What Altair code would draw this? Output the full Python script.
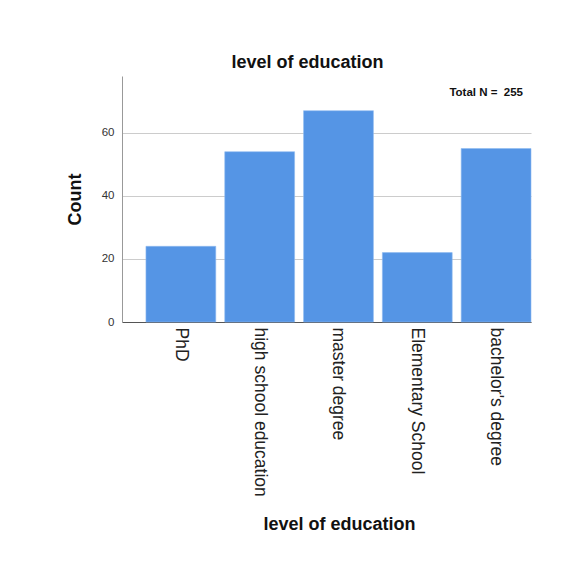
import altair as alt
import pandas as pd

categories = ["PhD", "high school education", "master degree", "Elementary School", "bachelor's degree"]
counts = [24, 54, 67, 22, 55]
total_n = 255

df = pd.DataFrame({"level": categories, "count": counts})

W, H = 409, 246
FONT = "Liberation Sans"

base = alt.Chart(df)

bars = base.mark_bar(color="#5595E5", stroke="#8fbaf0", strokeWidth=0.6).encode(
    x=alt.X(
        "level:N",
        sort=categories,
        scale=alt.Scale(paddingInner=0.114, paddingOuter=0.152, align=1),
        axis=alt.Axis(
            title="level of education",
            labelAngle=90,
            labelAlign="left",
            labelBaseline="middle",
            labelFontSize=17.5,
            labelColor="#222222",
            labelPadding=5,
            labelLimit=300,
            ticks=False,
            domainColor="#555555",
            titleFontSize=18,
            titleFontWeight="bold",
            titleColor="#111111",
            titleX=217,
            titleY=202,
            titleBaseline="middle",
        ),
    ),
    y=alt.Y(
        "count:Q",
        scale=alt.Scale(domain=[0, 78], nice=False),
        axis=alt.Axis(
            title="Count",
            values=[0, 20, 40, 60],
            labelFontSize=11.5,
            labelColor="#333333",
            labelPadding=8,
            ticks=False,
            domainColor="#999999",
            gridColor="#cccccc",
            gridWidth=1.2,
            titleFontSize=18,
            titleFontWeight="bold",
            titleColor="#111111",
            titleX=-47,
            titleY=123,
            titleAngle=-90,
            titleBaseline="middle",
            titleAlign="center",
        ),
    ),
)

note = alt.Chart(pd.DataFrame({"label": [f"Total N =\u00a0\u00a0{total_n}"], "ypos": [72.7]})).mark_text(
    align="right", baseline="middle", fontSize=11.5, fontWeight="bold", font=FONT, color="#111111"
).encode(
    x=alt.value(W - 8),
    y=alt.Y("ypos:Q"),
    text="label:N",
)

chart = alt.layer(bars, note).properties(
    width=W,
    height=H,
    title=alt.TitleParams(
        "level of education",
        fontSize=18,
        fontWeight="bold",
        font=FONT,
        color="#111111",
        anchor="middle",
        dx=-19,
        offset=4,
    ),
    autosize=alt.AutoSizeParams(type="none"),
    padding={"left": 114, "top": 68, "right": 37, "bottom": 235},
).configure(
    font=FONT,
    background="white",
).configure_view(
    stroke=None,
).configure_axis(
    labelFont=FONT,
    titleFont=FONT,
)

chart.save("out.html", embed_options={"renderer": "svg", "actions": False})
